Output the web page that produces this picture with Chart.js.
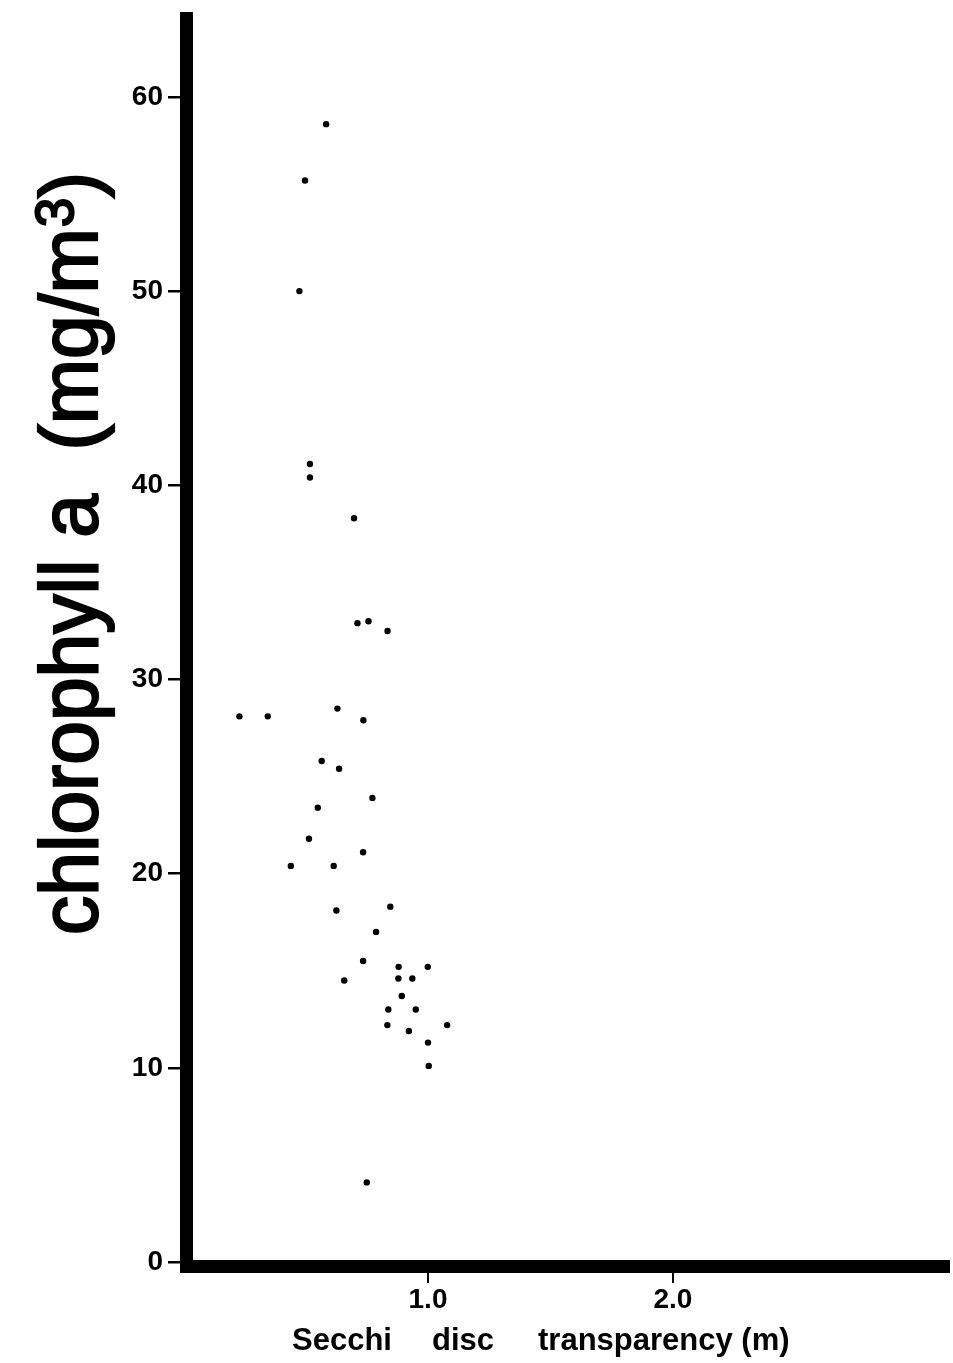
<!DOCTYPE html>
<html>
<head>
<meta charset="utf-8">
<script src="https://cdn.jsdelivr.net/npm/chart.js@4/dist/chart.umd.min.js"></script>
<style>
  html, body { margin: 0; padding: 0; background: #ffffff; }
  canvas { display: block; }
</style>
</head>
<body>
<canvas id="c" width="953" height="1363"></canvas>
<script>
// ---- data ----
const secchiDepth = [0.584, 0.498, 0.475, 0.518, 0.518, 0.698, 0.712, 0.757, 0.835, 0.630,
                     0.230, 0.346, 0.736, 0.566, 0.637, 0.773, 0.550, 0.514, 0.735, 0.440,
                     0.615, 0.626, 0.846, 0.788, 0.735, 0.880, 0.999, 0.658, 0.879, 0.936,
                     0.893, 0.838, 0.950, 0.834, 0.922, 1.078, 1.000, 1.003, 0.750];
const chlorophyll = [58.6, 55.7, 50.0, 41.1, 40.4, 38.3, 32.9, 33.0, 32.5, 28.5,
                     28.1, 28.1, 27.9, 25.8, 25.4, 23.9, 23.4, 21.8, 21.1, 20.4,
                     20.4, 18.1, 18.3, 17.0, 15.5, 15.2, 15.2, 14.5, 14.6, 14.6,
                     13.7, 13.0, 13.0, 12.2, 11.9, 12.2, 11.3, 10.1, 4.1];
const xTickValues = [1, 2];
const xTickLabels = ['1.0', '2.0'];
const yTickValues = [0, 10, 20, 30, 40, 50, 60];
const yTickLabels = ['0', '10', '20', '30', '40', '50', '60'];
const yTitleMain = 'chlorophyll a  (mg/m';
const yTitleSup = '3';
const yTitleEnd = ')';
const xTitleWords = ['Secchi', 'disc', 'transparency (m)'];

const points = secchiDepth.map((x, i) => ({ x: x, y: chlorophyll[i] }));

const titlePlugin = {
  id: 'axisTitles',
  afterDraw(chart) {
    const ctx = chart.ctx;
    ctx.save();
    ctx.fillStyle = '#000';
    ctx.strokeStyle = '#000';
    // y title, rotated
    ctx.save();
    ctx.translate(97, 935);
    ctx.rotate(-Math.PI / 2);
    ctx.font = '81px "Liberation Sans", Arial, sans-serif';
    ctx.textBaseline = 'alphabetic';
    ctx.textAlign = 'left';
    const w = ctx.measureText(yTitleMain).width;
    const sx = 707 / w;
    ctx.scale(sx, 1);
    ctx.lineWidth = 2.2;
    ctx.fillText(yTitleMain, 0, 0);
    ctx.strokeText(yTitleMain, 0, 0);
    ctx.font = '54px "Liberation Sans", Arial, sans-serif';
    ctx.fillText(yTitleSup, 708 / sx, -24);
    ctx.strokeText(yTitleSup, 708 / sx, -24);
    ctx.font = '81px "Liberation Sans", Arial, sans-serif';
    ctx.fillText(yTitleEnd, 737 / sx, 0);
    ctx.strokeText(yTitleEnd, 737 / sx, 0);
    ctx.restore();
    // x title
    ctx.font = 'bold 31px "Liberation Sans", Arial, sans-serif';
    ctx.textBaseline = 'alphabetic';
    ctx.textAlign = 'left';
    const xs = [292, 432, 538];
    xTitleWords.forEach((t, i) => ctx.fillText(t, xs[i], 1350));
    ctx.restore();
  }
};

new Chart(document.getElementById('c'), {
  type: 'scatter',
  data: {
    datasets: [{
      data: points,
      backgroundColor: '#000',
      borderColor: '#000',
      pointRadius: 3.2,
      pointBorderWidth: 0
    }]
  },
  options: {
    responsive: false,
    animation: false,
    layout: { padding: { top: 18.5, left: 0, right: 0, bottom: 0 } },
    plugins: { legend: { display: false }, tooltip: { enabled: false } },
    scales: {
      x: {
        type: 'linear',
        min: 0.012,
        max: 3.127,
        afterBuildTicks: s => { s.ticks = xTickValues.map(v => ({ value: v })); },
        afterFit: s => { s.height = 97; s.paddingLeft = 0; s.paddingRight = 0; },
        ticks: {
          autoSkip: false,
          maxRotation: 0,
          padding: 0,
          color: '#000',
          font: { family: '"Liberation Sans", Arial, sans-serif', size: 28, weight: 'bold' },
          callback: (v, i) => xTickLabels[i]
        },
        grid: { drawOnChartArea: false, drawTicks: true, tickLength: 17, color: '#000', lineWidth: 2 },
        border: { display: true, color: '#000', width: 13 }
      },
      y: {
        type: 'linear',
        min: -0.206,
        max: 64.04,
        afterBuildTicks: s => { s.ticks = yTickValues.map(v => ({ value: v })); },
        afterFit: s => { s.width = 186; s.paddingTop = 0; s.paddingBottom = 0; s.paddingLeft = 0; s.paddingRight = 0; },
        ticks: {
          autoSkip: false,
          padding: 5,
          color: '#000',
          font: { family: '"Liberation Sans", Arial, sans-serif', size: 28, weight: 'bold' },
          callback: (v, i) => yTickLabels[i]
        },
        grid: { drawOnChartArea: false, drawTicks: true, tickLength: 18, color: '#000', lineWidth: 2.5 },
        border: { display: true, color: '#000', width: 13 }
      }
    }
  },
  plugins: [titlePlugin]
});
</script>
</body>
</html>
